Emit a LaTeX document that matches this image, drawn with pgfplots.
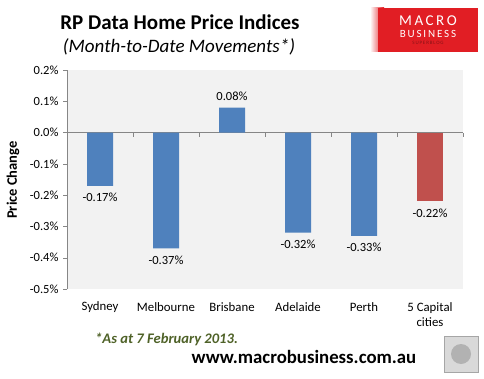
\documentclass[border=0pt]{standalone}
\usepackage{pgfplots}
\pgfplotsset{compat=1.18}
\usepackage{fontspec}
\setmainfont{Carlito}
\definecolor{barblue}{RGB}{79,129,189}
\definecolor{barred}{RGB}{192,80,77}
\definecolor{plotbg}{RGB}{242,242,242}
\definecolor{gridgray}{RGB}{134,134,134}
\definecolor{notegreen}{RGB}{79,98,40}
\definecolor{logored}{RGB}{225,30,36}
\begin{document}
\begin{tikzpicture}[x=1pt,y=1pt]
\fill[white] (0,0) rectangle (484,378);
\fill[plotbg] (67,89) rectangle (463,308);
\begin{axis}[
  at={(67pt,89pt)}, anchor=south west,
  width=396pt, height=219pt, scale only axis,
  xmin=-0.5, xmax=5.5, ymin=-0.5, ymax=0.2,
  axis x line*=middle,
  axis y line*=left,
  axis line style={gridgray, -},
  xtick={-0.5,0.5,...,5.5},
  xticklabel=\empty,
  xtick style={gridgray},
  xtick align=outside,
  ytick={-0.5,-0.4,...,0.2},
  yticklabel={\pgfmathprintnumber[fixed,fixed zerofill,precision=1]{\tick}\%},
  /pgf/number format/assume math mode=true,
  yticklabel style={font=\fontsize{12.5}{14}\selectfont, xshift=-1pt},
  ytick style={gridgray},
  ytick align=outside,
  major tick length=4pt,
  ybar, bar width=26pt, bar shift=0pt,
  nodes near coords={\pgfmathprintnumber[fixed,fixed zerofill,precision=2]{\pgfplotspointmeta}\%},
  nodes near coords align={vertical},
  every node near coord/.append style={font=\fontsize{12.5}{14}\selectfont, /pgf/number format/assume math mode=true, inner sep=7pt},
  clip=false,
]
\addplot[fill=barblue, draw=none] coordinates {(0,-0.17) (1,-0.37) (2,0.08) (3,-0.32) (4,-0.33)};
\addplot[fill=barred, draw=none] coordinates {(5,-0.22)};
\end{axis}
\node[rotate=90, font=\fontsize{14.5}{16}\selectfont\bfseries] at (13,198) {Price Change};
% category labels
\begin{scope}[font=\fontsize{12.8}{15}\selectfont]
\node at (100,71) {Sydney};
\node at (166,71) {Melbourne};
\node at (232,71) {Brisbane};
\node at (298,71) {Adelaide};
\node at (364,71) {Perth};
\node[align=center] at (430,63) {5 Capital\\cities};
\end{scope}
% titles
\node[font=\fontsize{21}{23}\selectfont\bfseries] at (180,356) {RP Data Home Price Indices};
\node[font=\fontsize{19}{21}\selectfont\itshape] at (179,331) {(Month-to-Date Movements*)};
% footnote and URL
\node[anchor=west, inner sep=0pt, font=\fontsize{14.6}{16}\selectfont\bfseries\itshape, text=notegreen] at (95,39) {*As at 7 February 2013.};
\node[font=\fontsize{18.8}{20}\selectfont\bfseries] at (304,21) {www.macrobusiness.com.au};
% logo
\shade[left color=white, right color=logored] (370,326) rectangle (384,370);
\fill[logored] (378,326) rectangle (478,370);
\node[text=white, font=\fontsize{15}{15}\selectfont] at (428,357) {M\,A\,C\,R\,O};
\node[text=white, font=\fontsize{11}{11}\selectfont] at (428,344) {B\,U\,S\,I\,N\,E\,S\,S};
\node[text=logored!60!black, font=\fontsize{5}{5}\selectfont] at (428,335) {S\,U\,P\,E\,R\,B\,L\,O\,G};
% wolf box
\fill[gray!30] (444,6) rectangle (478,42);
\draw[gray!70, line width=1pt] (444,6) rectangle (478,42);
\fill[gray!60] (461,24) circle (10);
\end{tikzpicture}
\end{document}
